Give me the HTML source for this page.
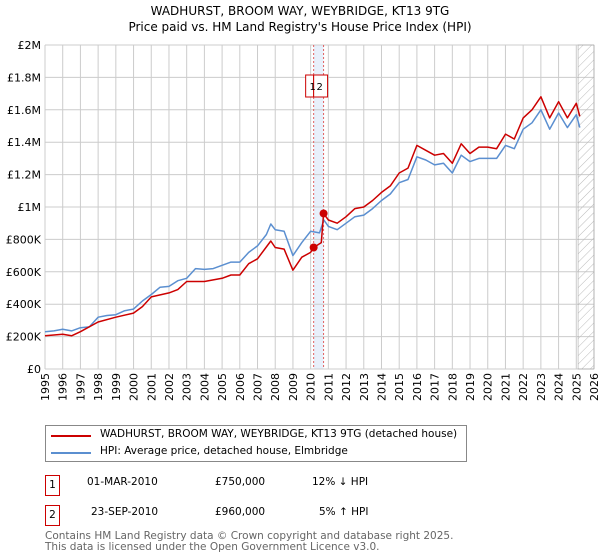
<!DOCTYPE html>
<html><head><meta charset="utf-8"><style>
body{margin:0;width:600px;height:560px;background:#fff;font-family:"DejaVu Sans","Liberation Sans",sans-serif;overflow:hidden;position:relative}
.t{position:absolute;font-size:11px;color:#000;white-space:nowrap}
</style></head><body>
<div class="t" style="left:0;width:600px;text-align:center;top:3px;font-size:12px;line-height:16px">WADHURST, BROOM WAY, WEYBRIDGE, KT13 9TG<br>Price paid vs. HM Land Registry's House Price Index (HPI)</div>
<svg id="chart" width="600" height="420" style="position:absolute;left:0;top:0" font-family="DejaVu Sans, Liberation Sans, sans-serif" font-size="11"></svg>
<div style="position:absolute;left:45px;top:425px;width:420px;height:35px;border:1px solid #888">
<div style="position:absolute;left:5px;top:4px;width:40px;height:2px;margin-top:5px;background:#cc0000"></div>
<div class="t" style="left:54px;top:2px;font-size:10.5px">WADHURST, BROOM WAY, WEYBRIDGE, KT13 9TG (detached house)</div>
<div style="position:absolute;left:5px;top:21px;width:40px;height:2px;margin-top:5px;background:#5b8fd0"></div>
<div class="t" style="left:54px;top:19px;font-size:10.5px">HPI: Average price, detached house, Elmbridge</div>
</div>
<div style="position:absolute;left:45px;top:475px;width:13px;height:19px;border:1px solid #cc0000;font-size:10.5px;text-align:center;line-height:19px">1</div>
<div class="t" style="left:87px;top:476px;font-size:10.5px">01-MAR-2010</div>
<div class="t" style="left:215px;top:476px;font-size:10.5px">£750,000</div>
<div class="t" style="left:312px;top:476px;font-size:10.5px">12% ↓ HPI</div>
<div style="position:absolute;left:45px;top:505px;width:13px;height:19px;border:1px solid #cc0000;font-size:10.5px;text-align:center;line-height:19px">2</div>
<div class="t" style="left:91px;top:506px;font-size:10.5px">23-SEP-2010</div>
<div class="t" style="left:215px;top:506px;font-size:10.5px">£960,000</div>
<div class="t" style="left:319px;top:506px;font-size:10.5px">5% ↑ HPI</div>
<div class="t" style="left:45px;top:531px;font-size:10.5px;color:#666;line-height:11px">Contains HM Land Registry data © Crown copyright and database right 2025.<br>This data is licensed under the Open Government Licence v3.0.</div>
<script>
const hpiYears=[1995,1995.5,1996,1996.5,1997,1997.5,1998,1998.5,1999,1999.5,2000,2000.5,2001,2001.5,2002,2002.5,2003,2003.5,2004,2004.5,2005,2005.5,2006,2006.5,2007,2007.5,2007.75,2008,2008.5,2009,2009.5,2010,2010.5,2010.75,2011,2011.5,2012,2012.5,2013,2013.5,2014,2014.5,2015,2015.5,2016,2016.5,2017,2017.5,2018,2018.5,2019,2019.5,2020,2020.5,2021,2021.5,2022,2022.5,2023,2023.5,2024,2024.5,2025,2025.2];
const hpiValues=[230,235,245,235,255,260,320,330,335,360,370,420,460,505,510,545,560,620,615,620,640,660,660,720,760,830,895,860,850,700,780,850,840,920,880,860,900,940,950,990,1040,1080,1150,1170,1310,1290,1260,1270,1210,1320,1280,1300,1300,1300,1380,1360,1480,1520,1600,1480,1580,1490,1570,1490];
const propYears=[1995,1996,1996.5,1997,1998,1999,2000,2000.5,2001,2002,2002.5,2003,2004,2005,2005.5,2006,2006.5,2007,2007.75,2008,2008.5,2009,2009.5,2010,2010.17,2010.6,2010.73,2011,2011.5,2012,2012.5,2013,2013.5,2014,2014.5,2015,2015.5,2016,2016.5,2017,2017.5,2018,2018.5,2019,2019.5,2020,2020.5,2021,2021.5,2022,2022.5,2023,2023.5,2024,2024.5,2025,2025.2];
const propValues=[205,215,205,230,290,320,345,385,445,470,490,540,540,560,580,580,650,680,790,750,740,610,690,720,750,780,960,920,900,940,990,1000,1040,1090,1130,1210,1240,1380,1350,1320,1330,1270,1390,1330,1370,1370,1360,1450,1420,1550,1600,1680,1550,1650,1550,1640,1560];
const saleYears=[2010.17,2010.73];
const saleValues=[750,960];
const saleLabels=["1","2"];
const yTicks=[0,200,400,600,800,1000,1200,1400,1600,1800,2000];
const yTickLabels=["£0","£200K","£400K","£600K","£800K","£1M","£1.2M","£1.4M","£1.6M","£1.8M","£2M"];
const xTicks=[];for(let y=1995;y<=2026;y++)xTicks.push(y);

const L=45,R=594,T=45,B=369;
const X=v=>L+(v-1995)/(2026-1995)*(R-L);
const Y=v=>B-v/2000*(B-T);
const svg=document.getElementById('chart');
const NS='http://www.w3.org/2000/svg';
function mk(tag,attrs,parent){const e=document.createElementNS(NS,tag);for(const k in attrs)e.setAttribute(k,attrs[k]);(parent||svg).appendChild(e);return e;}
// defs hatch
const defs=mk('defs',{});
const pat=mk('pattern',{id:'hatch',width:6,height:6,patternUnits:'userSpaceOnUse',patternTransform:'rotate(45)'},defs);
mk('line',{x1:0,y1:0,x2:0,y2:6,stroke:'#bbb','stroke-width':1},pat);
// band
const band=mk('rect',{x:X(saleYears[0]),y:T,width:X(saleYears[1])-X(saleYears[0]),height:B-T,fill:'#e8f0fb'});


// grid
yTicks.forEach((t,i)=>{
 const g=mk('line',{x1:L,x2:R,y1:Y(t),y2:Y(t),stroke:'#ccc','stroke-width':1});
 
 
 const tx=mk('text',{x:L-4,y:Y(t)+4,'text-anchor':'end',fill:'#000'});
 tx.textContent=yTickLabels[i];
 
 
});
xTicks.forEach(t=>{
 const g=mk('line',{x1:X(t),x2:X(t),y1:T,y2:B,stroke:'#ccc','stroke-width':1});
 
 
 const tx=mk('text',{x:X(t)+4,y:B+4,'text-anchor':'end',transform:`rotate(-90 ${X(t)+4} ${B+4})`,fill:'#000'});
 tx.textContent=t;
 
 
});
// forecast hatch
const h=mk('rect',{x:X(2025.1),y:T,width:R-X(2025.1),height:B-T,fill:'url(#hatch)',stroke:'#999','stroke-width':0.5});


// sale vlines
saleYears.forEach(s=>{
 const l=mk('line',{x1:X(s),x2:X(s),y1:T,y2:B,stroke:'#e06060','stroke-width':1,'stroke-dasharray':'2,2'});
 
 
});
function path(xs,vs,color,name){
 const d=xs.map((x,i)=>(i?'L':'M')+X(x).toFixed(1)+','+Y(vs[i]).toFixed(1)).join('');
 const p=mk('path',{d:d,fill:'none',stroke:color,'stroke-width':1.5,'stroke-linejoin':'round'});
 
 
}
path(hpiYears,hpiValues,'#5b8fd0','hpi-line');
path(propYears,propValues,'#cc0000','property-line');
saleYears.forEach((s,i)=>{
 const c=mk('circle',{cx:X(s),cy:Y(saleValues[i]),r:4,fill:'#cc0000'});
 
 
});
// label boxes
const bx=X(saleYears[0])-9, bw=X(saleYears[1])-X(saleYears[0]);
saleLabels.forEach((lab,i)=>{
 const x=i==0?X(saleYears[0])-8:X(saleYears[0]);
 const w=i==0?8:X(saleYears[1])+4-X(saleYears[0]);
 const r=mk('rect',{x:x,y:75,width:w,height:22,fill:'#fff',stroke:'#cc0000','stroke-width':1});
 
 
});
saleLabels.forEach((lab,i)=>{
 const t=mk('text',{x:i==0?X(saleYears[0])-1:X(saleYears[0])+6,y:90,'text-anchor':'middle',fill:'#000','font-size':10});
 t.textContent=lab;
 
 
});
</script>
</body></html>
